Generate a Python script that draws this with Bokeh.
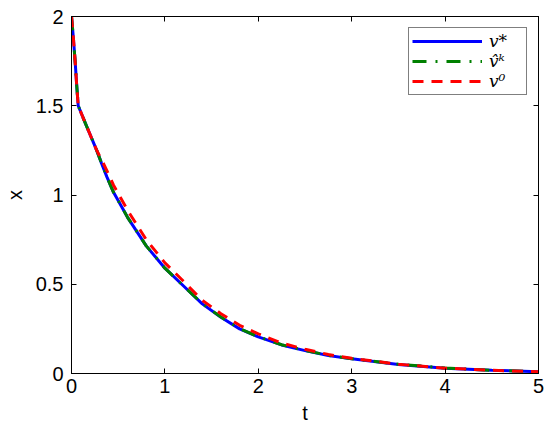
from bokeh.plotting import figure
from bokeh.models import (LinearAxis, FixedTicker, Legend, LegendItem, Range1d)
from bokeh.embed import file_html
from bokeh.resources import INLINE

# ---- data ----
t_vals = [0.0, 0.02, 0.04, 0.055, 0.072, 0.15, 0.27, 0.32, 0.38, 0.45, 0.6, 0.8, 1.0,
          1.2, 1.4, 1.6, 1.8, 2.0, 2.25, 2.5, 2.75, 3.0, 3.5, 4.0, 4.5, 5.0]
v_star = [2.0, 1.88, 1.74, 1.62, 1.50, 1.40, 1.25, 1.18, 1.10, 1.015, 0.875, 0.715, 0.59,
          0.49, 0.39, 0.315, 0.25, 0.205, 0.16, 0.128, 0.101, 0.082, 0.051, 0.030, 0.018, 0.010]
v_hat = [2.0, 1.88, 1.74, 1.62, 1.50, 1.40, 1.25, 1.18, 1.10, 1.015, 0.875, 0.715, 0.59,
         0.49, 0.391, 0.316, 0.251, 0.206, 0.161, 0.129, 0.102, 0.083, 0.052, 0.031, 0.018, 0.010]
v_zero = [2.0, 1.88, 1.74, 1.62, 1.50, 1.40, 1.25, 1.20, 1.135, 1.055, 0.915, 0.75, 0.62,
          0.516, 0.41, 0.335, 0.27, 0.222, 0.17, 0.136, 0.106, 0.085, 0.052, 0.030, 0.018, 0.010]

x_ticks = [0, 1, 2, 3, 4, 5]
x_tick_labels = ["0", "1", "2", "3", "4", "5"]
y_ticks = [0, 0.5, 1, 1.5, 2]
y_tick_labels = ["0", "0.5", "1", "1.5", "2"]

FONT = "Liberation Sans"
FS = "20px"

p = figure(frame_width=467, frame_height=357, output_backend="svg",
           toolbar_location=None, x_range=Range1d(0, 5), y_range=Range1d(0, 2),
           min_border_left=70, min_border_right=12, min_border_top=16, min_border_bottom=56)
p.background_fill_color = "white"
p.border_fill_color = "white"
p.xgrid.visible = False
p.ygrid.visible = False
p.outline_line_color = "black"
p.outline_line_width = 1

r1 = p.line(t_vals, v_star, line_color="#0000ff", line_width=3)
r2 = p.line(t_vals, v_hat, line_color="#008000", line_width=3, line_dash="14 9 2 9")
r3 = p.line(t_vals, v_zero, line_color="#ff0000", line_width=3, line_dash="11 8")

def style(ax):
    ax.major_tick_in = 5
    ax.major_tick_out = 0
    ax.minor_tick_line_color = None
    ax.axis_line_color = "black"
    ax.major_tick_line_color = "black"
    ax.major_label_text_font = FONT
    ax.major_label_text_color = "black"
    ax.major_label_text_font_size = FS
    ax.axis_label_text_font = FONT
    ax.axis_label_text_font_size = FS
    ax.axis_label_text_font_style = "normal"
    ax.axis_label_text_color = "black"

xa = p.xaxis[0]
ya = p.yaxis[0]
xa.ticker = FixedTicker(ticks=x_ticks)
ya.ticker = FixedTicker(ticks=y_ticks)
xa.major_label_overrides = {k: v for k, v in zip(x_ticks, x_tick_labels)}
ya.major_label_overrides = {k: v for k, v in zip(y_ticks, y_tick_labels)}
style(xa)
style(ya)
xa.axis_label = "t"
ya.axis_label = "x"
xa.major_label_standoff = 5
xa.axis_label_standoff = 6
ya.major_label_standoff = 8
ya.axis_label_standoff = 7

top = LinearAxis(ticker=FixedTicker(ticks=x_ticks))
right = LinearAxis(ticker=FixedTicker(ticks=y_ticks))
style(top)
style(right)
top.major_label_overrides = {k: "" for k in x_ticks}
right.major_label_overrides = {k: "" for k in y_ticks}
top.major_label_standoff = 0
right.major_label_standoff = 0
p.add_layout(top, "above")
p.add_layout(right, "right")

legend = Legend(items=[LegendItem(label="v*", renderers=[r1]),
                       LegendItem(label="v\u0302\u1d4f", renderers=[r2]),
                       LegendItem(label="v\u2070", renderers=[r3])],
                location="top_right")
legend.label_text_font = "DejaVu Serif"
legend.label_text_font_style = "italic"
legend.label_text_font_size = "17px"
legend.label_text_color = "black"
legend.glyph_width = 70
legend.glyph_height = 20
legend.label_height = 20
legend.label_width = 34
legend.label_standoff = 7
legend.spacing = 0
legend.padding = 3
legend.margin = 11
legend.border_line_color = "black"
legend.border_line_width = 1
legend.background_fill_color = "white"
legend.background_fill_alpha = 1.0
p.add_layout(legend, "center")

open("out.html", "w").write(file_html(p, INLINE))
